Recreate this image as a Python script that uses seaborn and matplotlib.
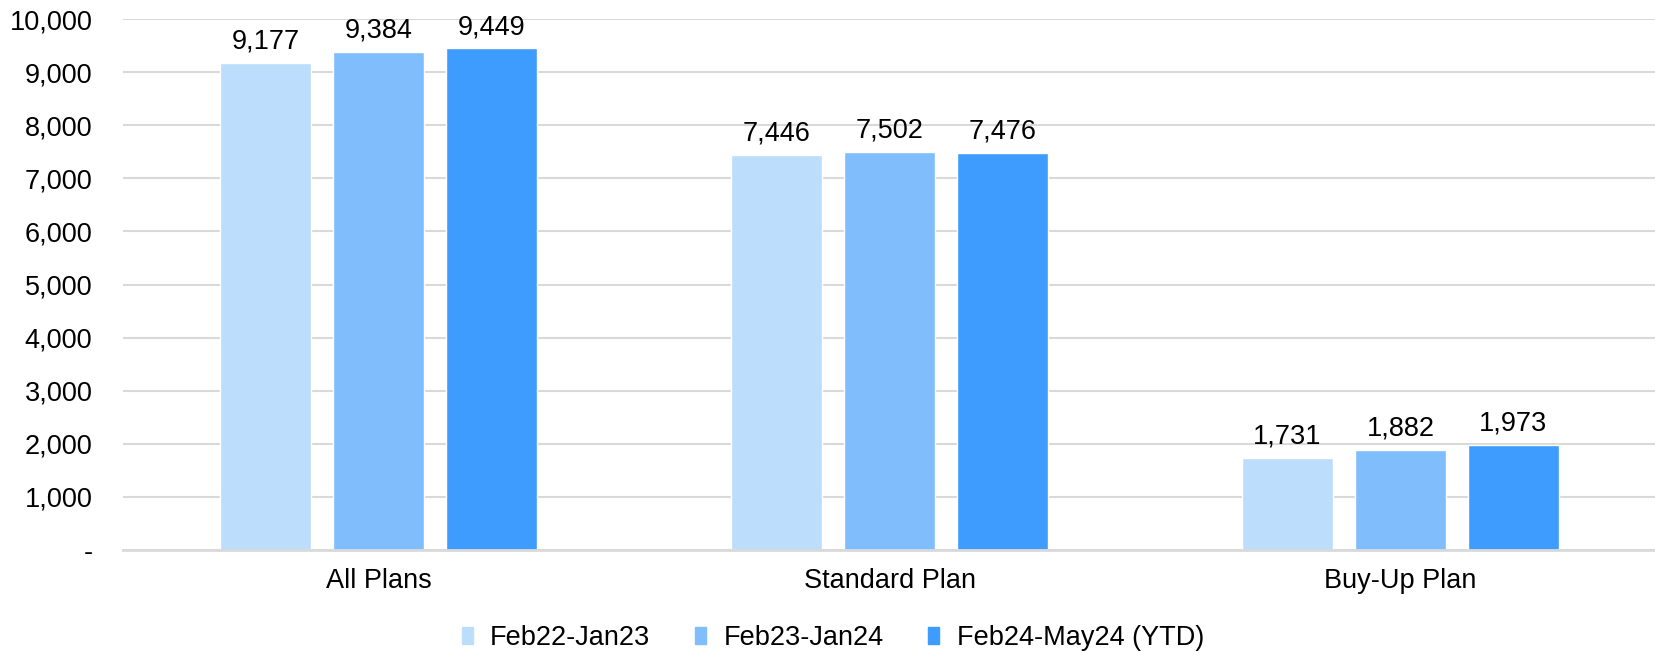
import matplotlib
matplotlib.use("Agg")
import matplotlib.pyplot as plt
import matplotlib.ticker as mticker
import seaborn as sns
import pandas as pd

# Average values per plan, by period
plans = ["All Plans", "Standard Plan", "Buy-Up Plan"]
periods = ["Feb22-Jan23", "Feb23-Jan24", "Feb24-May24 (YTD)"]
feb22_jan23 = [9177, 7446, 1731]
feb23_jan24 = [9384, 7502, 1882]
feb24_may24 = [9449, 7476, 1973]
colors = ["#BDDDFD", "#7FBDFC", "#3D9CFD"]
y_ticks = [0, 1000, 2000, 3000, 4000, 5000, 6000, 7000, 8000, 9000, 10000]

rows = []
for period, vals in zip(periods, [feb22_jan23, feb23_jan24, feb24_may24]):
    for plan, v in zip(plans, vals):
        rows.append({"Plan": plan, "Period": period, "Value": v})
df = pd.DataFrame(rows)

sns.set_theme(style="white")
plt.rcParams["font.family"] = ["Liberation Sans", "DejaVu Sans"]
plt.rcParams["text.color"] = "#000000"

fig = plt.figure(figsize=(16.56, 6.51), dpi=100)
ax = fig.add_axes([0.0743, 0.155, 0.9257, 0.8157])

sns.barplot(data=df, x="Plan", y="Value", hue="Period", order=plans,
            hue_order=periods, palette=colors, width=0.663, gap=0.2,
            saturation=1, ax=ax, legend=False)

for container in ax.containers:
    ax.bar_label(container, labels=[f"{v:,.0f}" for v in container.datavalues],
                 padding=6, fontsize=19.5, color="#000000", clip_on=False)

ax.set_xlim(-0.5, 2.5)
ax.set_ylim(0, 10000)
ax.set_yticks(y_ticks)
ax.yaxis.set_major_formatter(mticker.FuncFormatter(
    lambda v, _: "-" if v == 0 else f"{v:,.0f}"))
ax.grid(axis="y", color="#D9D9D9", linewidth=1.5)
ax.set_axisbelow(True)
for side in ["top", "right", "left"]:
    ax.spines[side].set_visible(False)
ax.spines["bottom"].set_color("#D9D9D9")
ax.spines["bottom"].set_linewidth(2)
ax.tick_params(axis="y", length=0, pad=22, labelsize=19.5, colors="#000000")
ax.tick_params(axis="x", length=0, pad=13, labelsize=19.5, colors="#000000")
ax.set_xlabel("")
ax.set_ylabel("")

handles = [plt.Rectangle((0, 0), 1, 1, color=c) for c in colors]
fig.legend(handles, periods, loc="center", bbox_to_anchor=(0.503, 0.02),
           ncol=3, frameon=False, fontsize=19.5, handlelength=0.4,
           handleheight=0.6, handletextpad=0.65, columnspacing=1.65,
           labelcolor="#000000")

fig.savefig("out.png", dpi=100)
